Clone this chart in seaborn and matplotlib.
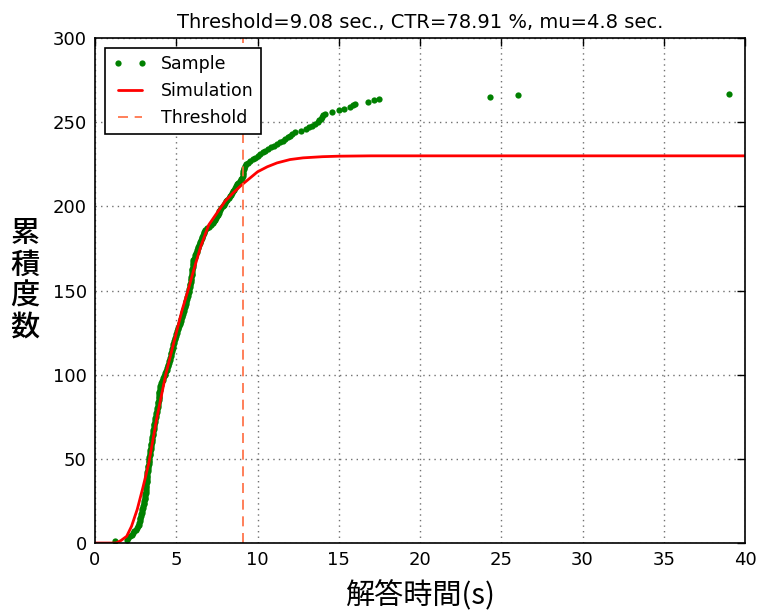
import numpy as np
import pandas as pd
import matplotlib
matplotlib.use('Agg')
import matplotlib.pyplot as plt
import seaborn as sns

# response times of the sample (seconds), sorted
sample_times = [
    1.23, 1.95, 2.02, 2.15, 2.25, 2.35, 2.42, 2.50, 2.57, 2.65,
    2.68, 2.71, 2.74, 2.77, 2.79, 2.82, 2.85, 2.87,
    2.90, 2.92, 2.95, 2.97, 3.00, 3.02, 3.04, 3.06, 3.08,
    3.09, 3.10, 3.11, 3.12, 3.13, 3.14, 3.15, 3.16, 3.17, 3.18, 3.19, 3.20,
    3.21, 3.22, 3.23, 3.24, 3.25, 3.27,
    3.28, 3.30, 3.31, 3.32, 3.34, 3.35, 3.37, 3.38, 3.40, 3.41, 3.43, 3.44,
    3.45, 3.46, 3.48, 3.49,
    3.50, 3.52, 3.54, 3.55, 3.57, 3.59, 3.61, 3.62, 3.64, 3.66, 3.68, 3.69,
    3.71, 3.73, 3.75, 3.77, 3.79, 3.81, 3.83, 3.85, 3.87, 3.89,
    3.90, 3.91, 3.92, 3.93, 3.94, 3.95, 3.96, 3.97, 3.98, 4.00,
    4.04, 4.08, 4.12, 4.16, 4.20,
    4.24, 4.28, 4.33, 4.37, 4.41, 4.46, 4.50,
    4.52, 4.55, 4.57, 4.60, 4.62, 4.65, 4.67, 4.70, 4.72,
    4.75, 4.78, 4.81, 4.83, 4.86, 4.89, 4.92, 4.95, 4.97, 5.00, 5.03,
    5.06, 5.10, 5.13, 5.17, 5.20, 5.24, 5.27, 5.30, 5.34, 5.37, 5.41, 5.44,
    5.47, 5.50, 5.52, 5.55, 5.58, 5.61, 5.63, 5.66, 5.69, 5.71, 5.74,
    5.76, 5.78, 5.80, 5.82, 5.84, 5.86, 5.88, 5.90,
    5.91, 5.92, 5.94, 5.95, 5.96, 5.97, 5.99, 6.00, 6.01, 6.02, 6.04, 6.05,
    6.09, 6.13, 6.17, 6.21, 6.25, 6.29, 6.33, 6.36,
    6.40, 6.44, 6.48, 6.52, 6.56, 6.61, 6.65, 6.69, 6.73, 6.77,
    6.90, 7.03, 7.15, 7.28,
    7.33, 7.38, 7.44, 7.49, 7.54, 7.60, 7.65, 7.70,
    7.77, 7.85, 7.92, 8.00, 8.07, 8.15, 8.22, 8.30,
    8.36, 8.43, 8.50, 8.56, 8.63, 8.69, 8.76, 8.82,
    8.90, 8.97, 9.05,
    9.10, 9.11, 9.12, 9.13, 9.14, 9.16,
    9.24, 9.32, 9.40,
    9.55, 9.70, 9.85, 10.00,
    10.16, 10.32, 10.48, 10.64, 10.80,
    11.00, 11.20, 11.40,
    11.55, 11.70, 11.85, 12.00, 12.15, 12.30,
    12.65, 13.00,
    13.18, 13.35, 13.52, 13.70,
    13.79, 13.88, 13.97, 14.06, 14.15,
    14.60,
    15.00, 15.35, 15.70,
    15.85, 16.00,
    16.80,
    17.15, 17.50,
    24.3, 26.0, 39.0,
]

# simulated cumulative curve
sim_x = [0, 1.3, 1.6, 1.95, 2.25, 2.6, 2.95, 3.3, 3.8, 4.35, 4.9, 5.35, 5.75,
         6.1, 6.5, 7.0, 7.5, 8.0, 8.5, 9.0, 9.5, 10.0, 10.6, 11.2, 12.0, 12.8,
         14.0, 15.0, 17.0, 20.0, 25.0, 40.0]
sim_y = [0, 0, 1.5, 4, 10, 20, 33, 47, 74, 100, 121, 138, 151,
         163, 176, 189, 196, 203, 208, 212.5, 216.5, 220.5, 223.5, 225.8, 227.8, 228.8,
         229.5, 229.8, 230, 230, 230, 230]

threshold = 9.08
ctr = 78.91
mu = 4.8

sample = pd.DataFrame({'time': sample_times,
                       'count': np.arange(1, len(sample_times) + 1)})
sim = pd.DataFrame({'time': sim_x, 'count': sim_y})

sns.set_style('white')
plt.rcParams['font.family'] = ['DejaVu Sans', 'Noto Sans CJK JP']
plt.rcParams['text.color'] = 'black'
plt.rcParams['axes.labelcolor'] = 'black'

fig = plt.figure(figsize=(7.63, 6.12), dpi=100)
ax = fig.add_axes([0.1245, 0.1127, 0.852, 0.8252])

sns.lineplot(x='time', y='count', data=sample, ax=ax, estimator=None, sort=False,
             linestyle='', marker='o', markersize=4.5, markeredgewidth=0,
             color='green', label='Sample')
sns.lineplot(x='time', y='count', data=sim, ax=ax, estimator=None, sort=False,
             color='red', linewidth=2, label='Simulation')
ax.axvline(threshold, color='#ff6a3d', linestyle='--', linewidth=1.2,
           dashes=(6, 4), label='Threshold')

ax.set_xlim(0, 40)
ax.set_ylim(0, 300)
ax.set_xticks(range(0, 41, 5))
ax.set_yticks(range(0, 301, 50))
ax.grid(True, linestyle=(0, (1, 3)), color='#707070', linewidth=1)
ax.tick_params(direction='in', top=True, right=True, length=6, width=1,
               labelsize=13, colors='black', pad=6)
for s in ax.spines.values():
    s.set_color('black')
    s.set_linewidth(1.2)

ax.set_title('Threshold=%.2f sec., CTR=%.2f %%, mu=%.1f sec.' % (threshold, ctr, mu),
             fontsize=14, pad=7)
ax.set_xlabel('解答時間(s)', fontsize=21, family=['Noto Sans CJK JP'], labelpad=8)
ax.set_ylabel('累\n積\n度\n数', fontsize=21, family=['Noto Sans CJK JP'],
              rotation=0, fontweight='medium', linespacing=1.0, va='center', ha='center')
ax.yaxis.set_label_coords(-0.108, 0.52)

leg = ax.legend(loc='upper left', numpoints=2, fontsize=12.5, fancybox=False,
                framealpha=1, edgecolor='black', borderaxespad=0.6,
                handlelength=2.0)
leg.get_frame().set_linewidth(1.2)

fig.savefig('out.png', dpi=100)
